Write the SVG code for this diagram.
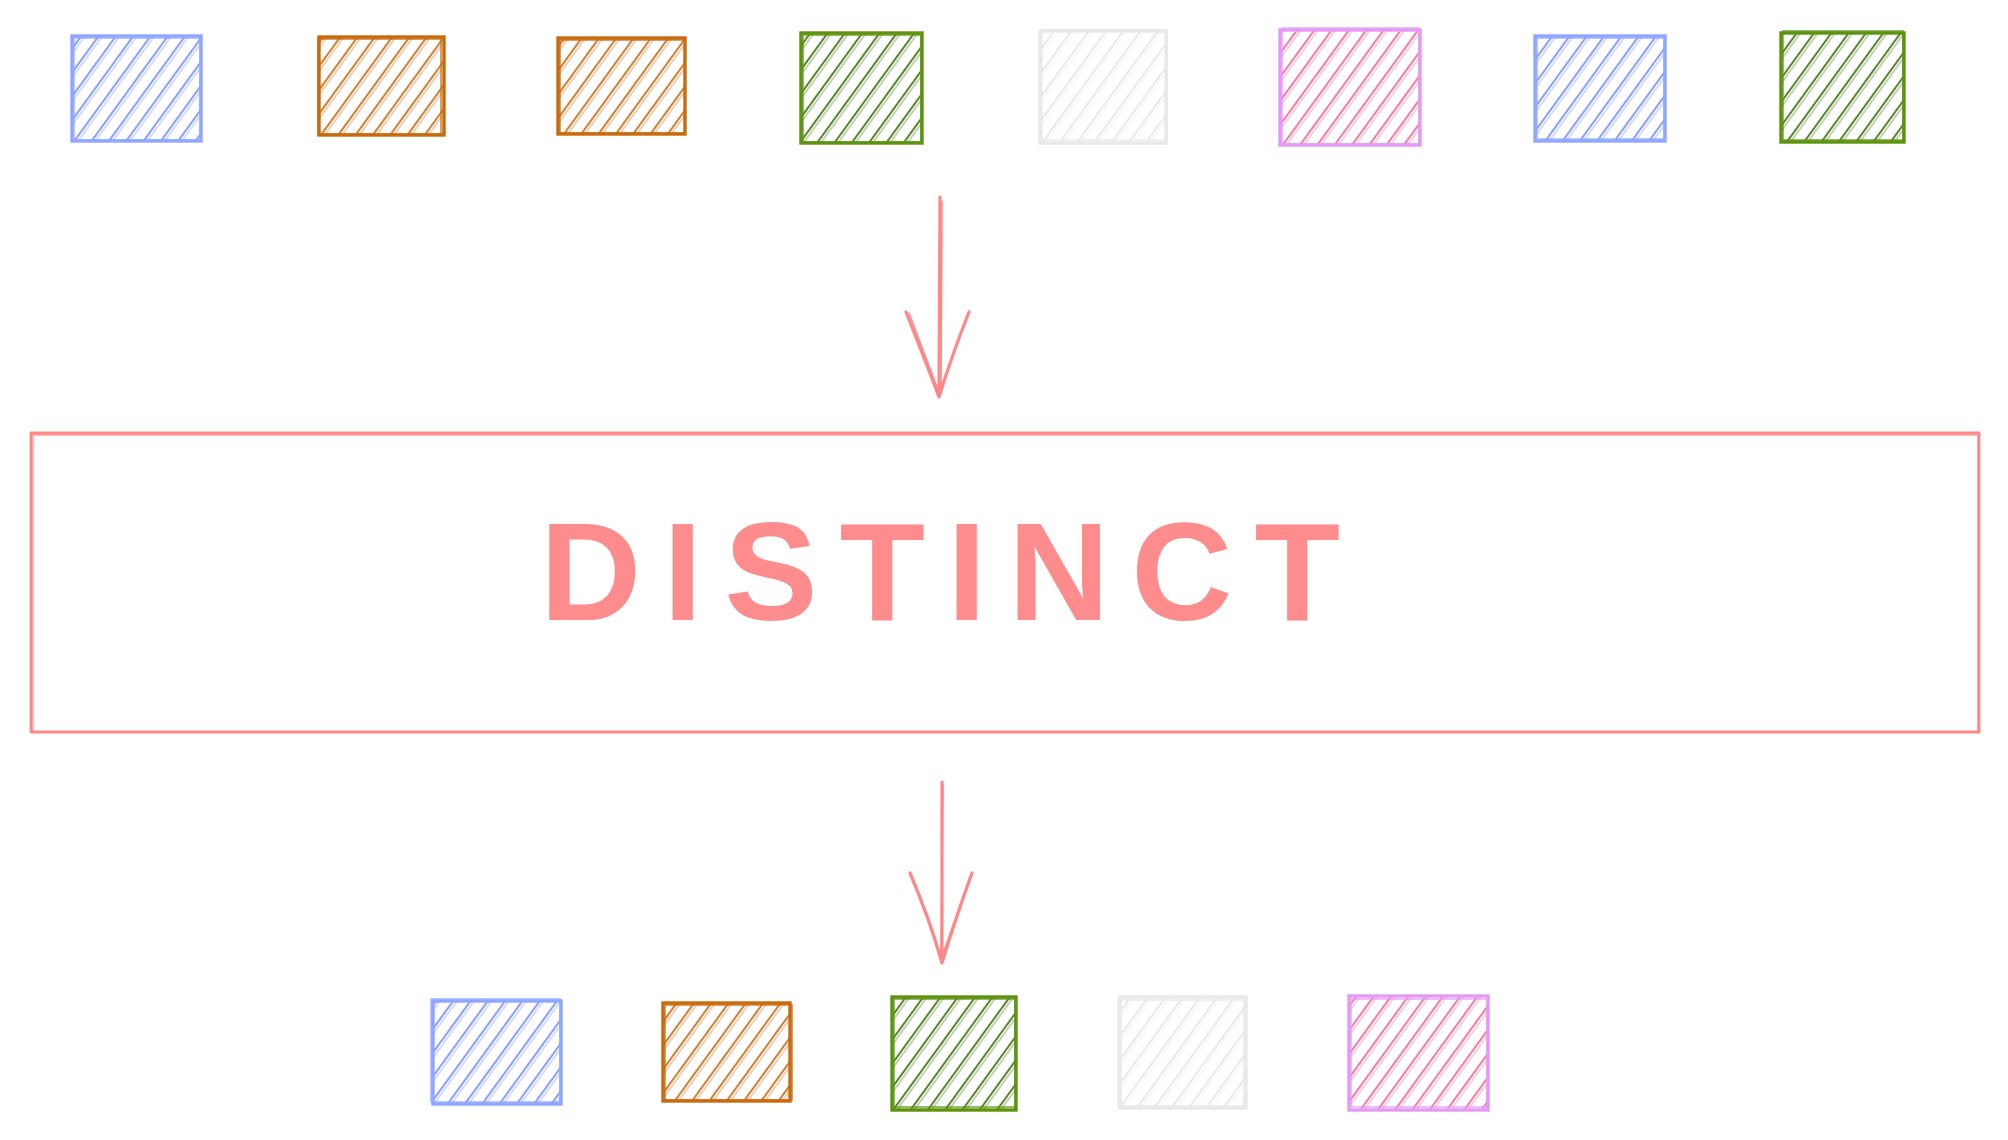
<svg xmlns="http://www.w3.org/2000/svg" width="2008" height="1140" viewBox="0 0 2008 1140">
  <defs>
    <pattern id="hBlue" patternUnits="userSpaceOnUse" width="14" height="14" patternTransform="rotate(36)">
      <path d="M3 0V14" stroke="#748ffc" stroke-width="1.7"/><path d="M6 0V14" stroke="#748ffc" stroke-width="0.9" opacity="0.7"/>
    </pattern>
    <pattern id="hOrange" patternUnits="userSpaceOnUse" width="14" height="14" patternTransform="rotate(36)">
      <path d="M3 0V14" stroke="#c96a0c" stroke-width="1.7"/><path d="M6 0V14" stroke="#c96a0c" stroke-width="0.9" opacity="0.7"/>
    </pattern>
    <pattern id="hGreen" patternUnits="userSpaceOnUse" width="14" height="14" patternTransform="rotate(36)">
      <path d="M3 0V14" stroke="#3b7008" stroke-width="1.7"/><path d="M6 0V14" stroke="#3b7008" stroke-width="0.9" opacity="0.7"/>
    </pattern>
    <pattern id="hGray" patternUnits="userSpaceOnUse" width="14" height="14" patternTransform="rotate(36)">
      <path d="M3 0V14" stroke="#e6e6e6" stroke-width="1.7"/><path d="M6 0V14" stroke="#e9e9e9" stroke-width="0.9" opacity="0.7"/>
    </pattern>
    <pattern id="hPink" patternUnits="userSpaceOnUse" width="14" height="14" patternTransform="rotate(36)">
      <path d="M3 0V14" stroke="#f06595" stroke-width="1.7"/><path d="M6 0V14" stroke="#f06595" stroke-width="0.9" opacity="0.7"/>
    </pattern>
  </defs>
  <style>
    .b { stroke-width: 3.4; fill: none; stroke-linecap: round; }
    .b2 { stroke-width: 1.6; fill: none; stroke-linecap: round; opacity: 0.8; }
    .blue { stroke: #91a7ff; }
    .orange { stroke: #c96a0c; }
    .green { stroke: #5c940d; }
    .gray { stroke: #e9e9e9; }
    .pink { stroke: #e599f7; }
    .red { stroke: #ff8787; fill: none; stroke-linecap: round; stroke-linejoin: round; }
    .lbl { font-family: "Liberation Sans", Arial, sans-serif; font-weight: bold; font-size: 140px; fill: #ff8c8c; }
  </style>
  <rect width="2008" height="1140" fill="#ffffff"/>

  <g id="top-1"><rect x="72" y="36" width="129" height="105" fill="url(#hBlue)"/><rect class="b blue" x="72" y="36" width="129" height="105"/><rect class="b2 blue" x="74" y="38" width="126" height="102"/></g>
  <g id="top-2"><rect x="319" y="37" width="125" height="98" fill="url(#hOrange)"/><rect class="b orange" x="319" y="37" width="125" height="98"/><rect class="b2 orange" x="318" y="39" width="123" height="95"/></g>
  <g id="top-3"><rect x="558" y="38" width="127" height="96" fill="url(#hOrange)"/><rect class="b orange" x="558" y="38" width="127" height="96"/><rect class="b2 orange" x="560" y="40" width="125" height="93"/></g>
  <g id="top-4"><rect x="801" y="33" width="121" height="110" fill="url(#hGreen)"/><rect class="b green" x="801" y="33" width="121" height="110"/><rect class="b2 green" x="803" y="35" width="118" height="107"/></g>
  <g id="top-5"><rect x="1040" y="31" width="126" height="112" fill="url(#hGray)"/><rect class="b gray" x="1040" y="31" width="126" height="112"/><rect class="b2 gray" x="1042" y="30" width="125" height="110"/></g>
  <g id="top-6"><rect x="1280" y="30" width="140" height="115" fill="url(#hPink)"/><rect class="b pink" x="1280" y="30" width="140" height="115"/><rect class="b2 pink" x="1282" y="28" width="137" height="116"/></g>
  <g id="top-7"><rect x="1535" y="36" width="130" height="105" fill="url(#hBlue)"/><rect class="b blue" x="1535" y="36" width="130" height="105"/><rect class="b2 blue" x="1537" y="38" width="127" height="101"/></g>
  <g id="top-8"><rect x="1781" y="33" width="123" height="109" fill="url(#hGreen)"/><rect class="b green" x="1781" y="33" width="123" height="109"/><rect class="b2 green" x="1783" y="31" width="120" height="109"/></g>

  <g id="distinct">
    <rect class="red" x="31" y="433" width="1948" height="299" stroke-width="2.8"/>
    <rect class="red" x="33" y="435" width="1945" height="297" stroke-width="1.3" opacity="0.8"/>
    <text class="lbl" x="940" y="620" text-anchor="middle" textLength="800" lengthAdjust="spacing">DISTINCT</text>
  </g>

  <g id="bottom-1"><rect x="433" y="1001" width="128" height="103" fill="url(#hBlue)"/><rect class="b blue" x="433" y="1001" width="128" height="103"/><rect class="b2 blue" x="431" y="999" width="129" height="103"/></g>
  <g id="bottom-2"><rect x="663" y="1003" width="127" height="98" fill="url(#hOrange)"/><rect class="b orange" x="663" y="1003" width="127" height="98"/><rect class="b2 orange" x="665" y="1005" width="127" height="95"/></g>
  <g id="bottom-3"><rect x="892" y="997" width="124" height="113" fill="url(#hGreen)"/><rect class="b green" x="892" y="997" width="124" height="113"/><rect class="b2 green" x="894" y="999" width="121" height="108"/></g>
  <g id="bottom-4"><rect x="1120" y="997" width="126" height="111" fill="url(#hGray)"/><rect class="b gray" x="1120" y="997" width="126" height="111"/><rect class="b2 gray" x="1118" y="1000" width="126" height="106"/></g>
  <g id="bottom-5"><rect x="1349" y="996" width="139" height="114" fill="url(#hPink)"/><rect class="b pink" x="1349" y="996" width="139" height="114"/><rect class="b2 pink" x="1351" y="999" width="136" height="108"/></g>

  <g id="connectors">
    <path class="red" stroke-width="3.2" d="M940 197 L939 397 M906 312 Q925 360 939 397 Q952 355 969 312"/>
    <path class="red" stroke-width="1.5" d="M942 202 L941 393 M909 313 Q926 358 940 395"/>
    <path class="red" stroke-width="3.2" d="M942 782 L942 963 M910 873 Q930 920 942 963 Q955 920 972 873"/>
    <path class="red" stroke-width="1.5" d="M943 785 L941 958 M971 875 Q954 922 941 960"/>
  </g>
</svg>
